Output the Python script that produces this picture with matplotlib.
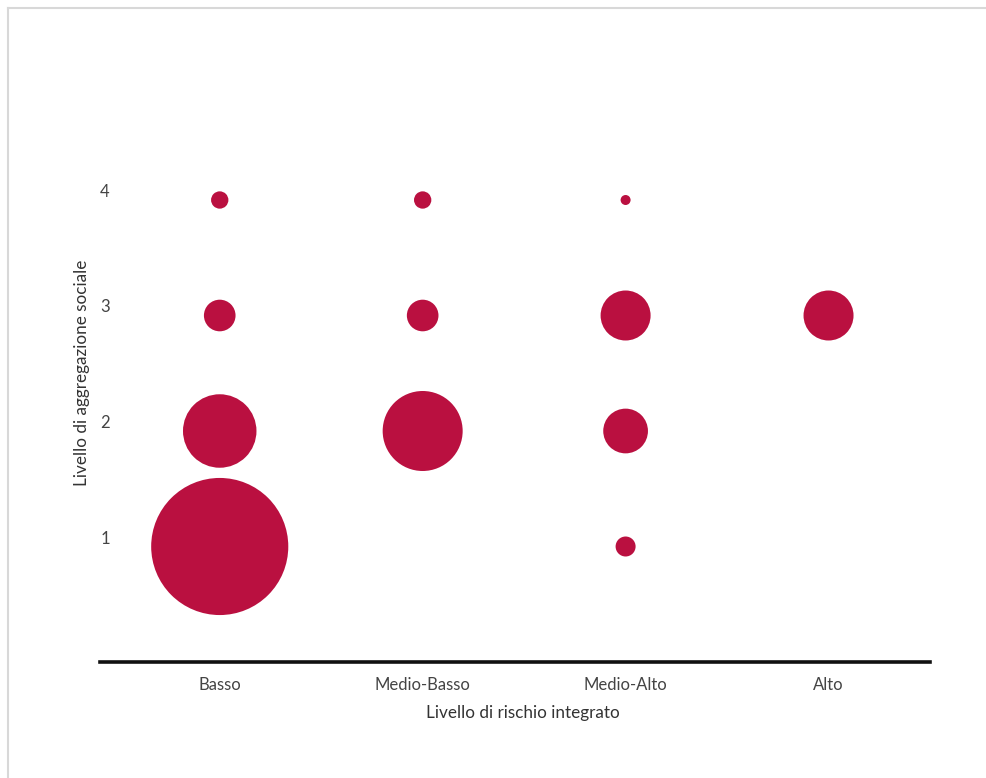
import matplotlib.pyplot as plt
from matplotlib.lines import Line2D

plt.rcParams['font.family'] = ['Lato', 'DejaVu Sans']

categories = ["Basso", "Medio-Basso", "Medio-Alto", "Alto"]
levels = [1, 2, 3, 4]

counts_basso = [188, 54, 10, 3]
counts_medio_basso = [0, 64, 10, 3]
counts_medio_alto = [4, 20, 25, 1]
counts_alto = [0, 0, 25, 0]

all_counts = [counts_basso, counts_medio_basso, counts_medio_alto, counts_alto]

W, H = 986, 778
fig = plt.figure(figsize=(W / 100, H / 100), dpi=100)

# bordo grigio chiaro in alto e a sinistra
fig.add_artist(Line2D([8 / W, 1], [1 - 8 / H, 1 - 8 / H], color='#d8d8d8', lw=1.5))
fig.add_artist(Line2D([8 / W, 8 / W], [0, 1 - 8 / H], color='#d8d8d8', lw=1.5))

left, right, bottom, top = 100, 930, 662, 84.5
ax = fig.add_axes([left / W, 1 - bottom / H, (right - left) / W, (bottom - top) / H])

xs, ys, ss = [], [], []
for i, cat_counts in enumerate(all_counts):
    for lvl, c in zip(levels, cat_counts):
        if c > 0:
            xs.append(i)
            ys.append(lvl)
            ss.append(c * 51.84)

ax.scatter(xs, ys, s=ss, color='#ba1040', edgecolors='none', zorder=3)

ax.set_xlim(-0.59, 3.5)
ax.set_ylim(0, 5)

for side in ['top', 'right', 'left']:
    ax.spines[side].set_visible(False)
ax.spines['bottom'].set_linewidth(2.6)
ax.spines['bottom'].set_color('#111111')

ax.set_xticks(range(len(categories)))
ax.set_xticklabels(categories, fontsize=12, color='#444444')
ax.tick_params(axis='x', length=0, pad=11)

ax.set_yticks(levels)
ax.set_yticklabels([str(l) for l in levels], fontsize=12, color='#444444')
ax.tick_params(axis='y', length=0, pad=-7)
for lab in ax.get_yticklabels():
    lab.set_verticalalignment('bottom')

ax.set_xlabel("Livello di rischio integrato", fontsize=12.3, color='#333333', labelpad=10)
ax.xaxis.set_label_coords((523 - left) / (right - left), -0.075)
ax.set_ylabel("Livello di aggregazione sociale", fontsize=12.3, color='#333333', labelpad=0)
ax.yaxis.set_label_coords(-0.012, 0.5)

fig.savefig("out.png", dpi=100)
